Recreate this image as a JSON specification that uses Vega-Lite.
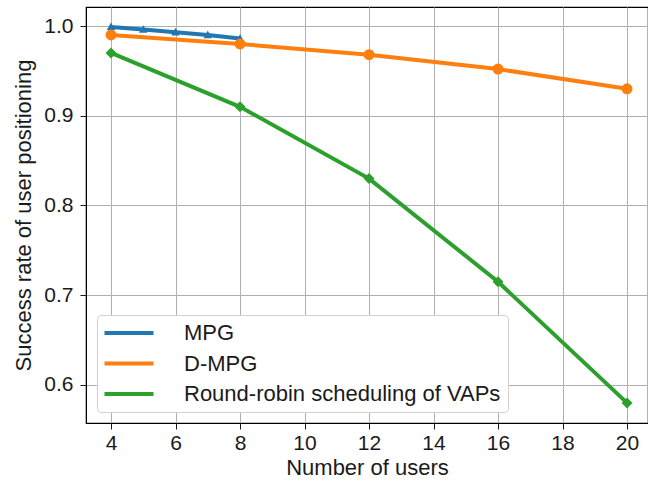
{
  "$schema": "https://vega.github.io/schema/vega-lite/v6.json",
  "width": 562,
  "height": 416,
  "autosize": {"type": "none"},
  "padding": {"left": 86, "top": 7, "right": 0, "bottom": 59},
  "background": "white",
  "config": {
    "font": "Liberation Sans",
    "view": {"stroke": "black", "strokeWidth": 1.2},
    "axis": {
      "labelFont": "Liberation Sans",
      "titleFont": "Liberation Sans",
      "labelFontSize": 21,
      "titleFontSize": 22,
      "titleFontWeight": "normal",
      "labelColor": "#1a1a1a",
      "titleColor": "#1a1a1a",
      "gridColor": "#b0b0b0",
      "gridWidth": 1,
      "gridOpacity": 1,
      "tickColor": "#1a1a1a",
      "tickSize": 6,
      "domainColor": "black"
    }
  },
  "data": {
    "values": [
      {"users": 4, "rate": 0.999, "method": "MPG"},
      {"users": 5, "rate": 0.996, "method": "MPG"},
      {"users": 6, "rate": 0.993, "method": "MPG"},
      {"users": 7, "rate": 0.990, "method": "MPG"},
      {"users": 8, "rate": 0.986, "method": "MPG"},
      {"users": 4, "rate": 0.990, "method": "D-MPG"},
      {"users": 8, "rate": 0.980, "method": "D-MPG"},
      {"users": 12, "rate": 0.968, "method": "D-MPG"},
      {"users": 16, "rate": 0.952, "method": "D-MPG"},
      {"users": 20, "rate": 0.930, "method": "D-MPG"},
      {"users": 4, "rate": 0.970, "method": "Round-robin scheduling of VAPs"},
      {"users": 8, "rate": 0.910, "method": "Round-robin scheduling of VAPs"},
      {"users": 12, "rate": 0.830, "method": "Round-robin scheduling of VAPs"},
      {"users": 16, "rate": 0.715, "method": "Round-robin scheduling of VAPs"},
      {"users": 20, "rate": 0.580, "method": "Round-robin scheduling of VAPs"}
    ]
  },
  "encoding": {
    "x": {
      "field": "users", "type": "quantitative",
      "scale": {"domain": [3.225, 20.65], "nice": false, "zero": false},
      "axis": {"values": [4, 6, 8, 10, 12, 14, 16, 18, 20], "title": "Number of users", "titlePadding": 4, "labelPadding": 3, "format": "d"}
    },
    "y": {
      "field": "rate", "type": "quantitative",
      "scale": {"domain": [0.5576, 1.0212], "nice": false, "zero": false},
      "axis": {"values": [0.6, 0.7, 0.8, 0.9, 1.0], "format": ".1f", "title": "Success rate of user positioning", "titlePadding": 8, "labelPadding": 7}
    }
  },
  "layer": [
    {
      "mark": {"type": "line", "strokeWidth": 4},
      "encoding": {
        "color": {
          "field": "method", "type": "nominal",
          "scale": {"domain": ["MPG", "D-MPG", "Round-robin scheduling of VAPs"], "range": ["#1f77b4", "#ff7f0e", "#2ca02c"]},
          "legend": {
            "title": null,
            "orient": "bottom-left",
            "offset": 11,
            "symbolType": "M-4.9,0L4.9,0",
            "symbolSize": 100,
            "symbolStrokeWidth": 4,
            "symbolOffset": 14,
            "labelFontSize": 22,
            "labelFont": "Liberation Sans",
            "labelColor": "#1a1a1a",
            "labelOffset": 44,
            "labelLimit": 500,
            "rowPadding": 8.5,
            "padding": 7,
            "fillColor": "white",
            "strokeColor": "#d0d0d0",
            "cornerRadius": 4
          }
        }
      }
    },
    {
      "transform": [{"filter": "datum.method === 'MPG'"}],
      "mark": {"type": "point", "filled": true, "opacity": 1, "size": 110, "shape": "M0,-0.85L0.8,0.6L-0.8,0.6Z", "color": "#1f77b4"}
    },
    {
      "transform": [{"filter": "datum.method === 'D-MPG'"}],
      "mark": {"type": "point", "filled": true, "opacity": 1, "size": 120, "shape": "circle", "color": "#ff7f0e"}
    },
    {
      "transform": [{"filter": "datum.method === 'Round-robin scheduling of VAPs'"}],
      "mark": {"type": "point", "filled": true, "opacity": 1, "size": 120, "shape": "diamond", "color": "#2ca02c"}
    }
  ]
}
